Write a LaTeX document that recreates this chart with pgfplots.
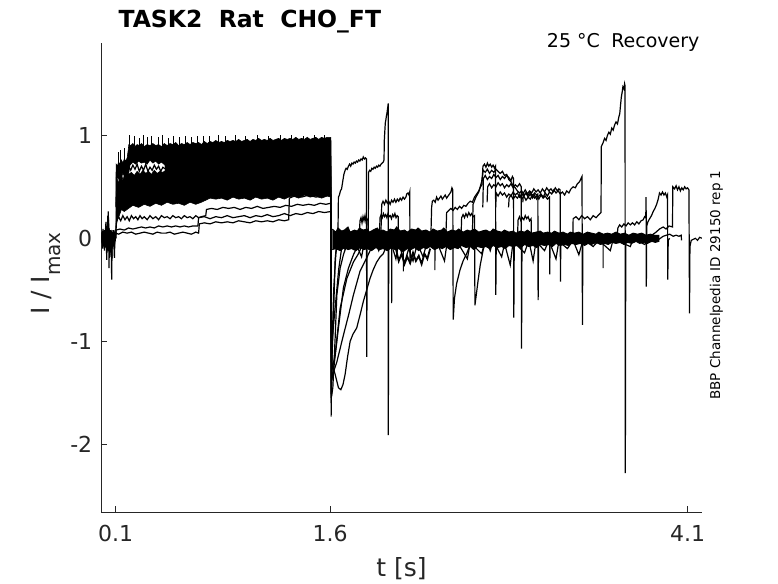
\documentclass[border=0pt]{standalone}
\usepackage{pgfplots}
\pgfplotsset{compat=1.18}
\usepackage{fontspec}
\setmainfont{DejaVu Sans}
\definecolor{axiscol}{RGB}{38,38,38}
\pgfplotscreateplotcyclelist{blk}{black,solid,mark=none,line width=1.2pt\\}
\begin{document}
\begin{tikzpicture}
\path[use as bounding box] (0,0) rectangle (778pt,583pt);
\begin{axis}[
 at={(101.4pt,70.7pt)}, anchor=south west,
 scale only axis, width=600.4pt, height=469.3pt,
 xmin=0, xmax=4.2, ymin=-2.66, ymax=1.896,
 axis x line*=bottom, axis y line*=left,
 axis line style={color=axiscol, line width=0.6pt, -},
 xtick={0.1,1.6,4.1}, xticklabels={0.1,1.6,4.1},
 ytick={-2,-1,0,1}, yticklabels={-2,-1,0,1},
 tick align=inside, major tick length=6pt,
 tick style={color=axiscol, line width=0.6pt},
 ticklabel style={font=\fontsize{22}{26}\selectfont, text=axiscol},
 xticklabel style={anchor=north, inner sep=0pt, yshift=-13pt},
 yticklabel style={anchor=east, inner sep=0pt, xshift=-9pt},
 cycle list name=blk,
 clip=true,
]
% pre-pulse
\addplot table {
0.000 0.02
0.005 -0.04
0.010 0.06
0.015 -0.08
0.020 0.03
0.025 -0.05
0.030 0.10
0.035 -0.02
0.037 -0.21
0.040 0.05
0.045 0.14
0.048 0.26
0.051 0.08
0.053 -0.29
0.057 0.04
0.062 -0.06
0.067 0.05
0.072 -0.40
0.075 0.02
0.080 -0.06
0.085 0.04
0.091 -0.19
0.095 0.03
0.099 0.00
};
\addplot table {
0.000 -0.05
0.004 0.05
0.009 -0.10
0.013 0.02
0.018 0.08
0.022 -0.12
0.027 0.04
0.032 0.16
0.036 -0.06
0.041 0.12
0.046 -0.10
0.050 0.18
0.055 -0.08
0.060 0.06
0.064 -0.14
0.069 0.03
0.074 0.08
0.078 -0.10
0.083 0.05
0.088 -0.08
0.093 0.06
0.098 -0.03
};
\addplot table {
0.000 0.06
0.006 -0.02
0.011 0.09
0.016 -0.06
0.021 0.00
0.026 0.07
0.031 -0.09
0.035 0.03
0.040 -0.14
0.044 0.22
0.049 0.00
0.054 0.10
0.058 -0.18
0.063 0.08
0.068 -0.05
0.073 -0.22
0.077 0.06
0.082 -0.03
0.087 0.08
0.092 -0.06
0.097 0.02
};
% pulse: upper dense band
\addplot[black, fill=black, line width=0.6pt, mark=none] table {
0.100 0.30
0.103 0.72
0.112 0.70
0.120 0.74
0.130 0.72
0.140 0.76
0.150 0.73
0.160 0.77
0.170 0.75
0.180 0.78
0.188 0.86
0.192 0.91
0.205 0.90
0.220 0.92
0.235 0.89
0.250 0.91
0.265 0.90
0.280 0.92
0.300 0.89
0.320 0.91
0.340 0.90
0.360 0.92
0.380 0.90
0.400 0.91
0.420 0.89
0.440 0.92
0.460 0.90
0.480 0.92
0.500 0.91
0.520 0.93
0.540 0.90
0.560 0.92
0.580 0.91
0.600 0.93
0.620 0.91
0.640 0.93
0.660 0.92
0.680 0.93
0.700 0.91
0.720 0.94
0.740 0.92
0.760 0.94
0.780 0.93
0.800 0.95
0.820 0.93
0.840 0.94
0.860 0.93
0.880 0.95
0.900 0.94
0.920 0.95
0.940 0.94
0.960 0.96
0.980 0.94
1.000 0.95
1.020 0.96
1.040 0.94
1.060 0.96
1.080 0.95
1.100 0.97
1.120 0.95
1.140 0.96
1.160 0.95
1.180 0.97
1.200 0.95
1.220 0.96
1.240 0.97
1.260 0.95
1.280 0.97
1.300 0.96
1.320 0.97
1.340 0.96
1.360 0.98
1.380 0.96
1.400 0.97
1.420 0.96
1.440 0.98
1.460 0.96
1.480 0.97
1.500 0.98
1.520 0.96
1.540 0.98
1.560 0.97
1.580 0.98
1.605 0.98
1.605 0.45
0.450 0.45
0.445 0.71
0.420 0.74
0.400 0.72
0.380 0.75
0.360 0.73
0.340 0.76
0.320 0.72
0.300 0.74
0.280 0.73
0.260 0.75
0.240 0.72
0.220 0.74
0.200 0.71
0.190 0.62
0.170 0.58
0.150 0.63
0.130 0.56
0.110 0.60
0.100 0.30
};
% pulse: lower dense band
\addplot[black, fill=black, line width=0.6pt, mark=none] table {
0.100 0.05
0.104 0.45
0.110 0.58
0.118 0.52
0.126 0.60
0.134 0.55
0.142 0.62
0.150 0.56
0.160 0.61
0.170 0.57
0.180 0.63
0.190 0.62
0.210 0.64
0.230 0.61
0.250 0.65
0.270 0.62
0.290 0.66
0.310 0.63
0.330 0.65
0.350 0.62
0.370 0.66
0.390 0.63
0.410 0.65
0.430 0.64
0.450 0.66
1.605 0.66
1.605 0.40
1.580 0.41
1.540 0.39
1.500 0.41
1.460 0.40
1.420 0.42
1.380 0.39
1.340 0.41
1.310 0.40
1.280 0.38
1.240 0.40
1.200 0.37
1.160 0.39
1.120 0.38
1.080 0.40
1.040 0.37
1.000 0.39
0.960 0.38
0.920 0.40
0.880 0.37
0.840 0.39
0.800 0.38
0.760 0.39
0.730 0.37
0.700 0.35
0.660 0.33
0.620 0.35
0.580 0.32
0.540 0.34
0.500 0.33
0.460 0.35
0.420 0.32
0.380 0.34
0.340 0.31
0.300 0.33
0.260 0.30
0.220 0.32
0.190 0.29
0.160 0.26
0.140 0.28
0.125 0.22
0.112 0.18
0.104 0.12
0.100 0.05
};
% hair spikes on top of the pulse
\addplot[black, line width=0.6pt, mark=none, unbounded coords=jump] table {
0.115 0.70
0.115 0.84
nan nan
0.135 0.72
0.135 0.86
nan nan
0.160 0.75
0.160 0.88
nan nan
0.198 0.90
0.198 1.00
nan nan
0.228 0.90
0.228 0.99
nan nan
0.262 0.90
0.262 0.97
nan nan
0.292 0.90
0.292 1.00
nan nan
0.318 0.90
0.318 0.98
nan nan
0.352 0.90
0.352 0.99
nan nan
0.395 0.90
0.395 0.98
nan nan
0.425 0.90
0.425 1.00
nan nan
0.470 0.90
0.470 0.97
nan nan
0.505 0.91
0.505 0.99
nan nan
0.548 0.91
0.548 0.98
nan nan
0.585 0.91
0.585 0.99
nan nan
0.628 0.92
0.628 0.98
nan nan
0.672 0.92
0.672 0.99
nan nan
0.715 0.92
0.715 0.99
nan nan
0.758 0.93
0.758 0.99
nan nan
0.815 0.93
0.815 1.00
nan nan
0.870 0.93
0.870 0.99
nan nan
0.935 0.94
0.935 1.00
nan nan
1.010 0.94
1.010 0.99
nan nan
1.090 0.95
1.090 1.00
nan nan
1.170 0.95
1.170 0.99
nan nan
1.250 0.95
1.250 1.00
nan nan
1.330 0.96
1.330 1.00
nan nan
1.410 0.96
1.410 0.99
nan nan
1.490 0.96
1.490 1.00
nan nan
1.560 0.96
1.560 1.00
};
% texture in the gap
\addplot table {
0.190 0.70
0.205 0.66
0.220 0.71
0.235 0.67
0.250 0.72
0.265 0.65
0.280 0.70
0.295 0.66
0.310 0.72
0.325 0.65
0.340 0.69
0.355 0.66
0.370 0.71
0.385 0.67
0.400 0.70
0.415 0.65
0.430 0.69
0.450 0.67
};
% L1 with transient
\addplot table {
0.100 0.00
0.102 0.05
0.120 0.04
0.150 0.06
0.180 0.05
0.210 0.06
0.240 0.04
0.270 0.05
0.300 0.06
0.330 0.05
0.360 0.04
0.390 0.06
0.420 0.05
0.450 0.05
0.480 0.06
0.510 0.04
0.540 0.05
0.570 0.06
0.600 0.05
0.630 0.04
0.660 0.06
0.680 0.05
0.685 0.14
0.720 0.15
0.760 0.14
0.800 0.16
0.840 0.15
0.880 0.16
0.920 0.15
0.960 0.17
1.000 0.16
1.040 0.15
1.080 0.17
1.120 0.16
1.160 0.17
1.200 0.16
1.240 0.18
1.280 0.17
1.310 0.18
1.315 0.39
1.350 0.41
1.400 0.40
1.450 0.42
1.500 0.40
1.550 0.41
1.605 0.42
1.607 -1.73
1.612 -1.20
1.623 -0.79
1.635 -0.21
1.645 -0.05
1.660 0.00
};
% L2 with transient
\addplot table {
0.100 0.00
0.103 0.08
0.130 0.09
0.160 0.08
0.190 0.10
0.220 0.09
0.250 0.10
0.280 0.11
0.310 0.10
0.340 0.11
0.370 0.10
0.400 0.12
0.430 0.11
0.460 0.12
0.490 0.11
0.520 0.12
0.550 0.11
0.580 0.12
0.610 0.11
0.640 0.12
0.675 0.12
0.680 0.20
0.720 0.21
0.760 0.19
0.800 0.21
0.840 0.20
0.880 0.22
0.920 0.20
0.960 0.21
1.000 0.22
1.040 0.20
1.080 0.22
1.120 0.21
1.160 0.23
1.200 0.21
1.240 0.22
1.280 0.24
1.320 0.22
1.360 0.24
1.400 0.23
1.440 0.25
1.480 0.24
1.520 0.26
1.560 0.25
1.605 0.26
1.608 -1.55
1.619 -1.45
1.635 -0.97
1.647 -0.55
1.670 -0.29
1.693 -0.16
1.720 -0.05
1.740 0.00
};
% L3 with transient
\addplot table {
0.100 0.00
0.105 0.16
0.120 0.21
0.135 0.17
0.150 0.22
0.165 0.18
0.180 0.21
0.195 0.17
0.210 0.22
0.225 0.19
0.240 0.21
0.255 0.18
0.270 0.22
0.285 0.19
0.300 0.21
0.320 0.18
0.340 0.22
0.360 0.19
0.380 0.21
0.400 0.18
0.420 0.22
0.440 0.20
0.460 0.21
0.480 0.19
0.500 0.22
0.520 0.20
0.540 0.21
0.560 0.19
0.580 0.22
0.600 0.20
0.620 0.21
0.640 0.19
0.660 0.22
0.680 0.20
0.700 0.21
0.730 0.22
0.735 0.28
0.770 0.29
0.810 0.28
0.850 0.30
0.890 0.29
0.930 0.30
0.970 0.28
1.010 0.30
1.050 0.29
1.090 0.31
1.130 0.29
1.170 0.30
1.210 0.31
1.250 0.30
1.290 0.32
1.330 0.31
1.370 0.33
1.410 0.32
1.450 0.33
1.490 0.32
1.530 0.34
1.570 0.33
1.605 0.34
1.609 -1.40
1.623 -1.29
1.658 -0.87
1.693 -0.48
1.728 -0.29
1.763 -0.16
1.800 -0.05
1.820 0.00
};
% further transients
\addplot table {
1.604 0.95
1.610 -1.30
1.635 -1.13
1.670 -0.68
1.717 -0.39
1.763 -0.23
1.798 -0.15
1.830 -0.05
};
\addplot table {
1.604 0.70
1.610 -1.20
1.635 -1.32
1.658 -1.45
1.675 -1.47
1.690 -1.42
1.705 -1.32
1.722 -1.15
1.740 -1.00
1.760 -0.93
1.786 -0.87
1.810 -0.74
1.833 -0.61
1.856 -0.50
1.879 -0.39
1.900 -0.31
1.926 -0.23
1.950 -0.18
1.972 -0.15
2.000 -0.05
};
\addplot table {
1.604 0.60
1.611 -1.35
1.647 -1.20
1.693 -0.94
1.730 -0.74
1.763 -0.55
1.809 -0.32
1.856 -0.19
1.900 -0.06
};
\addplot table {
1.604 0.50
1.608 -1.60
1.615 -1.00
1.625 -0.50
1.640 -0.15
1.655 0.00
};
\addplot table {
1.604 0.80
1.609 -1.10
1.620 -0.90
1.640 -0.60
1.660 -0.30
1.680 -0.10
1.700 0.00
};
% baseline band after the pulse
\addplot[black, fill=black, line width=0.9pt, mark=none] table {
1.615 0.09
1.640 0.06
1.655 0.10
1.680 0.07
1.700 0.08
1.725 0.11
1.740 0.06
1.770 0.08
1.790 0.07
1.805 0.10
1.830 0.08
1.860 0.09
1.875 0.06
1.900 0.08
1.930 0.10
1.945 0.07
1.970 0.08
2.000 0.06
2.020 0.09
2.050 0.08
2.065 0.11
2.090 0.07
2.120 0.08
2.140 0.06
2.170 0.09
2.200 0.08
2.215 0.10
2.240 0.07
2.270 0.08
2.300 0.06
2.320 0.09
2.350 0.07
2.380 0.08
2.395 0.10
2.420 0.06
2.450 0.08
2.480 0.07
2.500 0.09
2.530 0.06
2.560 0.08
2.580 0.07
2.610 0.09
2.640 0.06
2.660 0.07
2.690 0.08
2.720 0.06
2.740 0.09
2.770 0.07
2.800 0.06
2.820 0.08
2.850 0.06
2.880 0.07
2.900 0.05
2.930 0.07
2.960 0.06
2.980 0.08
3.010 0.05
3.040 0.06
3.070 0.07
3.090 0.05
3.120 0.06
3.150 0.05
3.170 0.07
3.200 0.05
3.230 0.06
3.260 0.04
3.280 0.06
3.310 0.05
3.340 0.06
3.370 0.04
3.400 0.06
3.430 0.05
3.460 0.04
3.480 0.06
3.510 0.04
3.540 0.05
3.570 0.04
3.600 0.06
3.630 0.04
3.660 0.05
3.690 0.03
3.720 0.05
3.750 0.04
3.780 0.05
3.810 0.03
3.840 0.04
3.870 0.03
3.900 0.03
3.900 -0.03
3.875 -0.04
3.850 -0.03
3.820 -0.05
3.790 -0.04
3.765 -0.05
3.740 -0.03
3.710 -0.05
3.680 -0.04
3.655 -0.06
3.630 -0.04
3.600 -0.05
3.570 -0.04
3.545 -0.06
3.520 -0.05
3.490 -0.06
3.460 -0.04
3.430 -0.06
3.405 -0.05
3.380 -0.07
3.350 -0.05
3.320 -0.06
3.290 -0.05
3.265 -0.07
3.240 -0.06
3.210 -0.07
3.180 -0.05
3.155 -0.08
3.130 -0.06
3.100 -0.07
3.070 -0.06
3.045 -0.09
3.020 -0.07
2.990 -0.08
2.960 -0.06
2.935 -0.09
2.910 -0.07
2.880 -0.08
2.850 -0.07
2.825 -0.10
2.800 -0.08
2.770 -0.09
2.740 -0.07
2.715 -0.10
2.690 -0.08
2.660 -0.09
2.630 -0.08
2.605 -0.11
2.580 -0.08
2.550 -0.09
2.520 -0.07
2.495 -0.10
2.470 -0.09
2.440 -0.11
2.410 -0.08
2.385 -0.10
2.360 -0.09
2.330 -0.11
2.300 -0.08
2.275 -0.10
2.250 -0.09
2.220 -0.12
2.190 -0.09
2.165 -0.11
2.140 -0.10
2.110 -0.13
2.080 -0.10
2.055 -0.11
2.030 -0.09
2.000 -0.12
1.970 -0.10
1.945 -0.11
1.920 -0.09
1.890 -0.12
1.860 -0.10
1.835 -0.11
1.810 -0.09
1.780 -0.12
1.750 -0.10
1.725 -0.11
1.700 -0.09
1.670 -0.12
1.640 -0.10
1.615 -0.11
};
% noise below the band
\addplot table {
1.650 -0.02
1.700 -0.10
1.720 0.00
1.780 -0.05
1.820 -0.18
1.840 -0.03
1.900 0.02
1.940 -0.12
1.970 0.00
2.030 -0.06
2.060 -0.20
2.080 -0.04
2.120 -0.24
2.150 -0.10
2.180 -0.22
2.210 -0.05
2.250 -0.18
2.280 -0.03
2.360 -0.08
2.400 -0.22
2.420 -0.02
2.500 -0.06
2.560 -0.20
2.580 -0.04
2.660 -0.15
2.690 0.00
2.720 -0.12
2.740 -0.02
2.800 -0.18
2.820 -0.05
2.860 -0.26
2.880 -0.03
2.960 -0.14
2.990 -0.02
3.020 -0.22
3.040 -0.03
3.100 -0.12
3.130 -0.02
3.180 -0.20
3.200 -0.03
3.260 -0.10
3.300 -0.02
3.340 -0.16
3.370 -0.01
3.440 -0.08
3.480 -0.02
3.560 -0.12
3.580 -0.01
3.700 -0.08
3.720 0.00
3.800 -0.06
3.840 -0.01
3.900 -0.02
};
\addplot[black, line width=1.8pt, mark=none] table {
2.060 -0.10
2.080 -0.22
2.100 -0.15
2.120 -0.25
2.140 -0.18
2.160 -0.24
2.180 -0.14
2.200 -0.22
2.220 -0.17
2.240 -0.25
2.260 -0.15
2.280 -0.20
2.300 -0.10
};
% U1
\addplot table {
1.650 0.03
1.655 0.07
1.658 0.40
1.665 0.42
1.672 0.46
1.680 0.48
1.688 0.55
1.696 0.62
1.705 0.66
1.712 0.68
1.720 0.67
1.728 0.70
1.736 0.72
1.744 0.70
1.752 0.73
1.760 0.72
1.768 0.74
1.776 0.73
1.784 0.75
1.792 0.74
1.800 0.76
1.808 0.75
1.816 0.77
1.824 0.76
1.832 0.79
1.840 0.77
1.848 0.78
1.854 0.77
1.856 -1.15
1.859 -0.05
1.870 0.00
};
% U2
\addplot table {
1.862 0.02
1.867 0.08
1.869 0.64
1.876 0.66
1.884 0.65
1.892 0.68
1.900 0.67
1.908 0.69
1.916 0.68
1.924 0.70
1.932 0.69
1.940 0.71
1.948 0.70
1.956 0.72
1.964 0.73
1.972 0.74
1.977 0.76
1.979 0.95
1.983 1.05
1.986 1.12
1.990 1.15
1.994 1.19
1.998 1.22
2.002 1.26
2.005 1.29
2.006 1.31
2.007 -1.91
2.010 -0.05
2.020 0.00
};
% U3
\addplot table {
1.955 0.03
1.961 0.33
1.970 0.36
1.980 0.33
1.990 0.37
2.000 0.34
2.010 0.36
2.020 0.33
2.030 0.37
2.040 0.35
2.050 0.38
2.060 0.35
2.070 0.38
2.080 0.36
2.090 0.39
2.100 0.37
2.110 0.40
2.120 0.38
2.130 0.40
2.136 0.43
2.145 0.44
2.152 0.42
2.157 0.45
2.159 -0.25
2.162 -0.03
2.170 0.00
};
% U4
\addplot table {
1.945 0.02
1.949 0.20
1.957 0.23
1.965 0.20
1.973 0.24
1.981 0.21
1.989 0.23
1.997 0.20
2.005 0.24
2.013 0.21
2.021 0.22
2.029 0.19
2.037 0.23
2.045 0.21
2.053 0.24
2.061 0.20
2.069 0.22
2.076 0.21
2.078 0.02
};
% U5
\addplot table {
1.804 0.03
1.809 0.17
1.816 0.20
1.823 0.15
1.830 0.21
1.837 0.17
1.844 0.22
1.851 0.16
1.858 0.19
1.865 0.17
1.867 0.03
};
% U6
\addplot table {
2.305 0.03
2.310 0.30
2.315 0.36
2.325 0.37
2.335 0.35
2.345 0.40
2.355 0.37
2.365 0.39
2.375 0.41
2.385 0.38
2.395 0.40
2.405 0.42
2.415 0.39
2.425 0.41
2.435 0.43
2.445 0.45
2.452 0.49
2.458 0.47
2.461 -0.79
2.470 -0.58
2.485 -0.44
2.508 -0.31
2.530 -0.22
2.555 -0.15
2.580 -0.06
2.600 -0.02
};
% U7
\addplot table {
2.410 0.03
2.415 0.25
2.430 0.27
2.445 0.29
2.460 0.27
2.475 0.30
2.490 0.28
2.505 0.31
2.520 0.29
2.535 0.32
2.550 0.31
2.565 0.34
2.580 0.36
2.595 0.35
2.610 0.40
2.625 0.43
2.640 0.46
2.652 0.50
2.662 0.52
2.669 0.70
2.680 0.72
2.690 0.69
2.700 0.73
2.710 0.70
2.720 0.72
2.730 0.69
2.740 0.71
2.750 0.68
2.757 0.70
2.759 -0.55
2.762 -0.05
2.775 0.00
};
% Sa
\addplot table {
2.595 0.03
2.600 0.33
2.620 0.40
2.640 0.45
2.660 0.55
2.671 0.66
2.685 0.64
2.700 0.67
2.715 0.63
2.730 0.66
2.745 0.64
2.760 0.67
2.775 0.65
2.790 0.63
2.805 0.65
2.820 0.61
2.835 0.62
2.850 0.57
2.865 0.55
2.880 0.51
2.895 0.49
2.910 0.46
2.925 0.44
2.940 0.46
2.955 0.42
2.970 0.44
2.985 0.40
3.000 0.43
3.015 0.39
3.030 0.42
3.045 0.38
3.060 0.41
3.075 0.43
3.090 0.40
3.105 0.44
3.120 0.41
3.135 0.45
3.150 0.43
3.165 0.47
3.180 0.44
3.195 0.46
3.210 0.43
3.225 0.45
3.240 0.42
3.255 0.46
3.270 0.44
3.285 0.48
3.300 0.50
3.315 0.49
3.330 0.53
3.345 0.55
3.355 0.58
3.362 0.60
3.365 -0.84
3.368 -0.05
3.380 0.00
};
% Sb
\addplot table {
2.668 0.30
2.672 0.58
2.685 0.61
2.700 0.57
2.715 0.60
2.730 0.58
2.745 0.62
2.760 0.59
2.775 0.61
2.790 0.57
2.805 0.60
2.820 0.58
2.835 0.61
2.850 0.59
2.865 0.56
2.875 0.60
2.883 0.58
2.885 -0.77
2.888 -0.04
2.900 0.00
};
% Sc
\addplot table {
2.698 0.35
2.702 0.50
2.715 0.53
2.730 0.49
2.745 0.52
2.760 0.50
2.775 0.54
2.790 0.51
2.805 0.53
2.820 0.49
2.835 0.52
2.850 0.50
2.865 0.53
2.880 0.49
2.895 0.52
2.910 0.50
2.925 0.53
2.937 0.50
2.939 -1.07
2.942 -0.05
2.955 0.00
};
% Sd
\addplot table {
2.758 0.30
2.762 0.44
2.775 0.41
2.790 0.45
2.805 0.42
2.820 0.44
2.835 0.40
2.850 0.43
2.865 0.41
2.880 0.45
2.895 0.42
2.910 0.44
2.925 0.40
2.940 0.43
2.955 0.41
2.970 0.44
2.985 0.42
3.000 0.45
3.015 0.41
3.030 0.44
3.045 0.42
3.053 0.43
3.055 -0.60
3.058 -0.03
3.070 0.00
};
% Se
\addplot table {
2.848 0.30
2.852 0.39
2.865 0.42
2.880 0.38
2.895 0.41
2.910 0.39
2.925 0.42
2.940 0.38
2.955 0.41
2.970 0.37
2.985 0.40
3.000 0.38
3.015 0.42
3.030 0.39
3.045 0.41
3.060 0.38
3.075 0.42
3.090 0.39
3.105 0.41
3.120 0.38
3.134 0.40
3.136 -0.35
3.139 0.00
};
% Sf
\addplot table {
2.948 0.35
2.952 0.44
2.965 0.47
2.980 0.43
2.995 0.46
3.010 0.44
3.025 0.48
3.040 0.45
3.055 0.47
3.070 0.44
3.085 0.48
3.100 0.45
3.115 0.49
3.130 0.46
3.145 0.48
3.160 0.45
3.175 0.49
3.190 0.46
3.200 0.48
3.209 0.47
3.211 -0.42
3.214 0.00
};
% U8
\addplot table {
2.516 0.03
2.520 0.20
2.530 0.23
2.540 0.20
2.550 0.24
2.560 0.21
2.570 0.25
2.580 0.22
2.590 0.24
2.600 0.21
2.610 0.22
2.613 -0.65
2.636 -0.40
2.650 -0.26
2.671 -0.11
2.690 -0.03
};
% U9
\addplot table {
2.911 0.03
2.915 0.18
2.925 0.21
2.935 0.17
2.945 0.20
2.955 0.18
2.965 0.22
2.975 0.19
2.985 0.21
2.995 0.17
3.006 0.19
3.008 0.03
};
% U10
\addplot table {
3.298 0.03
3.300 0.19
3.320 0.21
3.340 0.18
3.360 0.22
3.380 0.19
3.400 0.21
3.420 0.18
3.440 0.22
3.460 0.20
3.480 0.23
3.495 0.25
3.497 0.89
3.510 0.93
3.520 0.97
3.530 0.95
3.540 1.00
3.550 1.03
3.560 1.01
3.570 1.07
3.580 1.05
3.590 1.10
3.600 1.13
3.610 1.11
3.620 1.18
3.626 1.21
3.632 1.30
3.637 1.37
3.643 1.42
3.648 1.47
3.655 1.45
3.660 1.50
3.663 1.48
3.665 -2.28
3.668 -0.05
3.680 0.00
};
% U11
\addplot table {
3.608 0.03
3.613 0.10
3.625 0.13
3.640 0.11
3.655 0.14
3.670 0.12
3.685 0.15
3.700 0.13
3.715 0.15
3.730 0.13
3.745 0.16
3.760 0.14
3.775 0.17
3.790 0.18
3.800 0.21
3.808 0.20
3.810 0.40
3.811 0.20
3.812 -0.47
3.815 0.12
3.823 0.16
3.835 0.19
3.848 0.22
3.860 0.26
3.872 0.29
3.884 0.33
3.895 0.38
3.904 0.44
3.915 0.42
3.925 0.45
3.935 0.42
3.945 0.44
3.955 0.40
3.960 0.42
3.962 -0.40
3.965 -0.02
3.975 0.00
};
% U12
\addplot table {
3.850 0.03
3.880 0.06
3.904 0.09
3.930 0.11
3.950 0.09
3.970 0.12
3.995 0.11
3.997 0.50
4.010 0.48
4.020 0.51
4.030 0.47
4.040 0.50
4.050 0.46
4.060 0.49
4.070 0.47
4.080 0.50
4.090 0.48
4.100 0.49
4.110 0.47
4.114 -0.73
4.117 -0.08
4.126 -0.02
4.140 -0.01
4.155 0.00
4.170 -0.02
4.185 0.01
4.200 0.00
};
% U13
\addplot table {
3.880 0.00
3.900 -0.01
3.930 0.02
3.975 0.04
4.000 0.02
4.020 0.03
4.040 0.02
4.056 0.03
4.058 -0.02
};
% isolated spikes
\addplot[black, line width=1.0pt, mark=none, unbounded coords=jump] table {
2.031 0.00
2.031 -0.63
2.033 -0.02
nan nan
2.112 0.00
2.112 -0.32
2.114 -0.02
nan nan
2.333 0.00
2.333 -0.31
2.335 0.00
nan nan
3.509 0.02
3.509 -0.29
3.511 0.00
};
\end{axis}
\node[anchor=base west, font=\fontsize{23.5}{28}\selectfont\bfseries] at (115pt,555pt) {TASK2\ \ Rat\ \ CHO\_FT};
\node[anchor=base east, font=\fontsize{19}{23}\selectfont] at (703pt,535pt) {25 °C\hspace{0.6em}Recovery};
\node[anchor=base, font=\fontsize{25}{30}\selectfont, text=axiscol] at (401.6pt,7pt) {t [s]};
\node[anchor=base, rotate=90, font=\fontsize{25}{30}\selectfont, text=axiscol] at (49pt,309.5pt) {I / I\raisebox{-11pt}{\fontsize{20}{24}\selectfont max}};
\node[anchor=base, rotate=90, font=\fontsize{13.5}{16}\selectfont] at (720pt,298pt) {BBP Channelpedia ID 29150 rep 1};
\end{tikzpicture}
\end{document}
